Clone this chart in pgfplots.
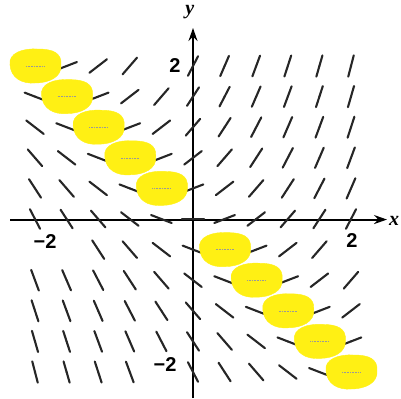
\documentclass[border=0pt]{standalone}
\usepackage{pgfplots}
\pgfplotsset{compat=1.18}
\usepackage{pgfplotstable}
\usepackage{fontspec}
\setmainfont{Liberation Sans}
\newfontfamily\seriffont{Liberation Serif}
\usetikzlibrary{arrows.meta}
\definecolor{hl}{RGB}{255,240,20}

% slope field of y' = x + y on a 0.4 grid: x, y, slope s
\pgfplotstableread[row sep=\\]{
x y s\\
-2 2 0\\ -1.6 2 0.4\\ -1.2 2 0.8\\ -0.8 2 1.2\\ 0 2 2\\ 0.4 2 2.4\\ 0.8 2 2.8\\ 1.2 2 3.2\\ 1.6 2 3.6\\ 2 2 4\\
-2 1.6 -0.4\\ -1.6 1.6 0\\ -1.2 1.6 0.4\\ -0.8 1.6 0.8\\ -0.4 1.6 1.2\\ 0 1.6 1.6\\ 0.4 1.6 2\\ 0.8 1.6 2.4\\ 1.2 1.6 2.8\\ 1.6 1.6 3.2\\ 2 1.6 3.6\\
-2 1.2 -0.8\\ -1.6 1.2 -0.4\\ -1.2 1.2 0\\ -0.8 1.2 0.4\\ -0.4 1.2 0.8\\ 0 1.2 1.2\\ 0.4 1.2 1.6\\ 0.8 1.2 2\\ 1.2 1.2 2.4\\ 1.6 1.2 2.8\\ 2 1.2 3.2\\
-2 0.8 -1.2\\ -1.6 0.8 -0.8\\ -1.2 0.8 -0.4\\ -0.8 0.8 0\\ -0.4 0.8 0.4\\ 0 0.8 0.8\\ 0.4 0.8 1.2\\ 0.8 0.8 1.6\\ 1.2 0.8 2\\ 1.6 0.8 2.4\\ 2 0.8 2.8\\
-2 0.4 -1.6\\ -1.6 0.4 -1.2\\ -1.2 0.4 -0.8\\ -0.8 0.4 -0.4\\ -0.4 0.4 0\\ 0 0.4 0.4\\ 0.4 0.4 0.8\\ 0.8 0.4 1.2\\ 1.2 0.4 1.6\\ 1.6 0.4 2\\ 2 0.4 2.4\\
-2 0 -2\\ -1.6 0 -1.6\\ -1.2 0 -1.2\\ -0.8 0 -0.8\\ -0.4 0 -0.4\\ 0 0 0\\ 0.4 0 0.4\\ 0.8 0 0.8\\ 1.2 0 1.2\\ 1.6 0 1.6\\ 2 0 2\\
-1.2 -0.4 -1.6\\ -0.8 -0.4 -1.2\\ -0.4 -0.4 -0.8\\ 0 -0.4 -0.4\\ 0.4 -0.4 0\\ 0.8 -0.4 0.4\\ 1.2 -0.4 0.8\\ 1.6 -0.4 1.2\\
-2 -0.8 -2.8\\ -1.6 -0.8 -2.4\\ -1.2 -0.8 -2\\ -0.8 -0.8 -1.6\\ -0.4 -0.8 -1.2\\ 0 -0.8 -0.8\\ 0.4 -0.8 -0.4\\ 0.8 -0.8 0\\ 1.2 -0.8 0.4\\ 1.6 -0.8 0.8\\ 2 -0.8 1.2\\
-2 -1.2 -3.2\\ -1.6 -1.2 -2.8\\ -1.2 -1.2 -2.4\\ -0.8 -1.2 -2\\ -0.4 -1.2 -1.6\\ 0 -1.2 -1.2\\ 0.4 -1.2 -0.8\\ 0.8 -1.2 -0.4\\ 1.2 -1.2 0\\ 1.6 -1.2 0.4\\ 2 -1.2 0.8\\
-2 -1.6 -3.6\\ -1.6 -1.6 -3.2\\ -1.2 -1.6 -2.8\\ -0.8 -1.6 -2.4\\ -0.4 -1.6 -2\\ 0 -1.6 -1.6\\ 0.4 -1.6 -1.2\\ 0.8 -1.6 -0.8\\ 1.2 -1.6 -0.4\\ 1.6 -1.6 0\\ 2 -1.6 0.4\\
-2 -2 -4\\ -1.6 -2 -3.6\\ -1.2 -2 -3.2\\ -0.8 -2 -2.8\\ 0 -2 -2\\ 0.4 -2 -1.6\\ 0.8 -2 -1.2\\ 1.2 -2 -0.8\\ 1.6 -2 -0.4\\ 2 -2 0\\
}\slopes

% points where the slope is zero (marked)
\pgfplotstableread[row sep=\\]{
x y\\
-2 2\\ -1.6 1.6\\ -1.2 1.2\\ -0.8 0.8\\ -0.4 0.4\\
0.4 -0.4\\ 0.8 -0.8\\ 1.2 -1.2\\ 1.6 -1.6\\ 2 -2\\
}\zeros

\pgfdeclareplotmark{blob}{%
  \fill[hl] (-25pt,1pt) .. controls (-27pt,13pt) and (-12pt,18pt) .. (3pt,17pt)
    .. controls (18pt,17pt) and (27pt,13pt) .. (26pt,1pt)
    .. controls (27pt,-11pt) and (14pt,-17pt) .. (0pt,-17pt)
    .. controls (-13pt,-18pt) and (-24pt,-12pt) .. cycle;
  \draw[black!40, densely dotted, line width=0.6pt] (-9pt,0pt) -- (9pt,0pt);
}

\begin{document}
\begin{tikzpicture}
\begin{axis}[
  x=79pt, y=76.5pt,
  xmin=-2.443, xmax=2.633, ymin=-2.34, ymax=2.863,
  hide axis, clip=false, scale only axis,
  seg/.style={black!85, line width=2.1pt, line cap=round, mark=none},
]
\coordinate (bl) at (axis cs:-2.443,-2.34);
\coordinate (tr) at (axis cs:2.633,2.863);

% coordinate axes
\draw[black, line width=1.9pt, -{Stealth[length=13pt,width=9pt]}]
  (axis cs:-2.316,-0.007) -- (axis cs:2.456,-0.007);
\draw[black, line width=1.9pt, -{Stealth[length=13pt,width=9pt]}]
  (axis cs:0,-2.34) -- (axis cs:0,2.497);

% slope segments, centred at each grid point
\addplot[seg, quiver={u={0.14*cos(atan(0.968*\thisrow{s}))},
                      v={0.144*sin(atan(0.968*\thisrow{s}))}}] table {\slopes};
\addplot[seg, quiver={u={-0.14*cos(atan(0.968*\thisrow{s}))},
                      v={-0.144*sin(atan(0.968*\thisrow{s}))}}] table {\slopes};

% highlighted zero-slope points
\addplot[only marks, mark=blob] table {\zeros};

% labels
\node[font=\bfseries\fontsize{20}{20}\selectfont] at (axis cs:-0.228,2.0) {2};
\node[font=\bfseries\fontsize{20}{20}\selectfont] at (axis cs:-0.354,-1.908) {−2};
\node[font=\bfseries\fontsize{20}{20}\selectfont] at (axis cs:2.013,-0.275) {2};
\node[font=\bfseries\fontsize{20}{20}\selectfont] at (axis cs:-1.873,-0.30) {−2};
\node[font=\seriffont\bfseries\itshape\fontsize{20}{20}\selectfont] at (axis cs:-0.04,2.70) {y};
\node[font=\seriffont\bfseries\itshape\fontsize{20}{20}\selectfont] at (axis cs:2.545,-0.02) {x};
\end{axis}
\pgfresetboundingbox
\path[use as bounding box] (bl) rectangle (tr);
\end{tikzpicture}
\end{document}
